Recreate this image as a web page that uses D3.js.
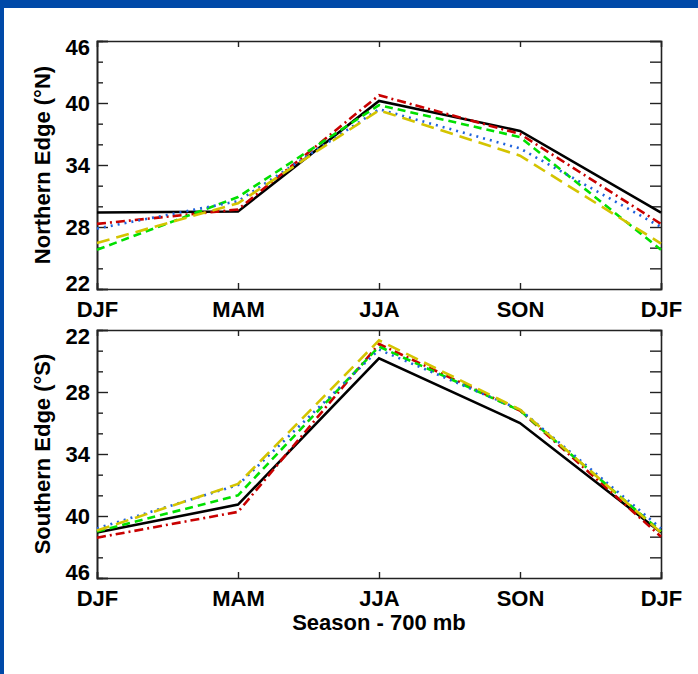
<!DOCTYPE html>
<html>
<head>
<meta charset="utf-8">
<script src="https://cdn.jsdelivr.net/npm/d3@7"></script>
<style>
  body { margin: 0; background: #fff; }
  text { font-family: "Liberation Sans", Arial, sans-serif; font-weight: bold; }
</style>
</head>
<body>
<div id="chart"></div>
<script>
// seasons on the x axis (annual cycle, DJF repeated at the end)
var seasons = ["DJF", "MAM", "JJA", "SON", "DJF"];

// northern edge latitude (deg N)
var northBlack  = [29.4, 29.5, 40.2, 37.3, 29.4];
var northRed    = [28.3, 29.7, 40.75, 37.0, 28.3];
var northBlue   = [27.85, 30.5, 39.4, 35.6, 28.0];
var northGreen  = [25.8, 30.9, 39.8, 36.7, 25.8];
var northYellow = [26.45, 30.3, 39.3, 34.9, 26.4];

// southern edge latitude (deg S)
var southBlack  = [41.6, 38.9, 24.75, 31.0, 41.6];
var southRed    = [42.1, 39.6, 23.35, 29.8, 42.0];
var southBlue   = [41.2, 37.0, 23.9, 29.7, 41.2];
var southGreen  = [41.5, 38.0, 23.6, 29.8, 41.5];
var southYellow = [41.4, 36.9, 23.0, 29.7, 41.6];

var majorTicks = [22, 28, 34, 40, 46];
var minorTicks = [24, 26, 30, 32, 36, 38, 42, 44];

var svgWidth = 698;
var svgHeight = 674;

var svg = d3.select("#chart")
    .append("svg")
    .attr("width", svgWidth)
    .attr("height", svgHeight);

// blue page frame
svg.append("rect").attr("x", 0).attr("y", 0).attr("width", svgWidth).attr("height", 8).attr("fill", "#0049a8");
svg.append("rect").attr("x", 0).attr("y", 0).attr("width", 4).attr("height", svgHeight).attr("fill", "#0049a8");

var xScale = d3.scaleLinear().domain([0, 4]).range([97, 661]);

var styles = [
    {color: "#000000", dash: null},
    {color: "#c80000", dash: "9,4,2,4"},
    {color: "#00e000", dash: "8,5"},
    {color: "#1f62dc", dash: "2,5"},
    {color: "#d4c400", dash: "13,7"}
];

function drawPanel(top, bottom, yRange, series, title) {
    var yScale = d3.scaleLinear().domain([22, 46]).range(yRange);
    var g = svg.append("g");

    // minor + major ticks on the left
    g.append("g")
        .attr("transform", "translate(97,0)")
        .call(d3.axisLeft(yScale).tickValues(minorTicks).tickSize(-6).tickFormat(""));
    var yAxis = g.append("g")
        .attr("transform", "translate(97,0)")
        .call(d3.axisLeft(yScale).tickValues(majorTicks).tickSize(-11).tickPadding(7).tickFormat(d3.format("d")));

    // labels at the two ends are pulled inside the axis range
    yAxis.selectAll(".tick text")
        .attr("y", function(d) {
            var p = yScale(d);
            if (Math.abs(p - top) < 1) return 6;
            if (Math.abs(p - bottom) < 1) return -6;
            return 0;
        });

    // right side ticks
    g.append("g")
        .attr("transform", "translate(661,0)")
        .call(d3.axisRight(yScale).tickValues(majorTicks.concat(minorTicks)).tickSize(-11).tickFormat(""));

    // top and bottom ticks
    g.append("g")
        .attr("transform", `translate(0, ${top})`)
        .call(d3.axisTop(xScale).tickValues([1, 2, 3]).tickSize(-6).tickFormat(""));
    g.append("g")
        .attr("transform", `translate(0, ${bottom})`)
        .call(d3.axisBottom(xScale).tickValues([0, 1, 2, 3, 4]).tickSize(-6).tickPadding(12).tickFormat(i => seasons[i]));

    g.selectAll(".domain").attr("stroke", "#222").attr("stroke-width", 1.6);
    g.selectAll(".tick line").attr("stroke", "#222").attr("stroke-width", 1.4);
    g.selectAll(".tick text").attr("fill", "#000").style("font-size", "22px");

    var line = d3.line()
        .x((d, i) => xScale(i))
        .y(d => yScale(d));

    series.forEach(function(s, k) {
        g.append("path")
            .datum(s)
            .attr("d", line)
            .attr("fill", "none")
            .attr("stroke", styles[k].color)
            .attr("stroke-width", 2.6)
            .attr("stroke-dasharray", styles[k].dash);
    });

    g.append("text")
        .attr("transform", `translate(50, ${(top + bottom) / 2}) rotate(-90)`)
        .attr("text-anchor", "middle")
        .style("font-size", "22px")
        .text(title);
}

drawPanel(41, 289, [289, 41],
    [northBlack, northRed, northGreen, northBlue, northYellow], "Northern Edge (°N)");
drawPanel(330, 578, [330, 578],
    [southBlack, southRed, southGreen, southBlue, southYellow], "Southern Edge (°S)");

svg.append("text")
    .attr("x", 379)
    .attr("y", 630)
    .attr("text-anchor", "middle")
    .style("font-size", "22px")
    .text("Season - 700 mb");
</script>
</body>
</html>
